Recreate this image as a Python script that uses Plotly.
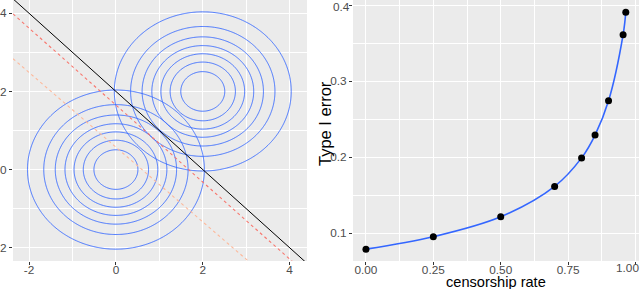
import numpy as np
import plotly.graph_objects as go

# ---- left panel: density contours of two bivariate normals and boundary lines
contour_levels = [0.02, 0.04, 0.06, 0.08, 0.10, 0.12, 0.14]
centers_x = [0.0, 2.0]
centers_y = [0.0, 2.0]
# lines y = intercept + slope * x
line_intercepts = [2.0, 1.65, 0.573]
line_slopes = [-1.0, -0.985, -0.956]
line_colors = ["#000000", "#F8766D", "#FDB99B"]
line_dashes = ["solid", "dot", "dot"]
left_ticks = [-2, 0, 2, 4]
left_ticktext = ["-2", "0", "2", "4"]

# ---- right panel
censorship_rate = [0.0, 0.25, 0.50, 0.70, 0.80, 0.85, 0.90, 0.954, 0.964]
type1_error = [0.079, 0.0953, 0.1215, 0.1615, 0.199, 0.229, 0.274, 0.361, 0.3905]
rate_ticks = [0, 0.25, 0.5, 0.75, 1.0]
rate_ticktext = ["0.00", "0.25", "0.50", "0.75", "1.00"]
err_ticks = [0.1, 0.2, 0.3, 0.4]
err_ticktext = ["0.1", "0.2", "0.3", "0.4"]

fig = go.Figure()

grid = np.linspace(-2.5, 4.5, 351)
GX, GY = np.meshgrid(grid, grid)
for cx, cy in zip(centers_x, centers_y):
    Z = np.exp(-((GX - cx) ** 2 + (GY - cy) ** 2) / 2) / (2 * np.pi)
    fig.add_trace(go.Contour(
        x=grid, y=grid, z=Z, xaxis="x", yaxis="y",
        contours=dict(coloring="lines", start=contour_levels[0],
                      end=contour_levels[-1],
                      size=contour_levels[1] - contour_levels[0]),
        colorscale=[[0, "#3366FF"], [1, "#3366FF"]],
        showscale=False, line=dict(width=0.9), hoverinfo="skip"))

xl = [-2.37, 4.40]
for a, b, c, d in zip(line_intercepts, line_slopes, line_colors, line_dashes):
    fig.add_trace(go.Scatter(
        x=xl, y=[a + b * xl[0], a + b * xl[1]], mode="lines",
        line=dict(color=c, width=1.0 if d == "solid" else 1.1, dash=d),
        xaxis="x", yaxis="y", showlegend=False))

fig.add_trace(go.Scatter(
    x=censorship_rate, y=type1_error, mode="lines",
    line=dict(color="#3366FF", width=1.6, shape="spline", smoothing=1.0),
    xaxis="x2", yaxis="y2", showlegend=False))
fig.add_trace(go.Scatter(
    x=censorship_rate, y=type1_error, mode="markers",
    marker=dict(color="black", size=7),
    xaxis="x2", yaxis="y2", showlegend=False, cliponaxis=False))

FONT = "Liberation Sans, Arial, sans-serif"
tickfont = dict(family=FONT, size=11.8, color="#4D4D4D")
common = dict(showgrid=True, gridcolor="white", gridwidth=1.1, zeroline=False,
              ticks="outside", ticklen=3, tickcolor="#333333", tickwidth=1,
              tickfont=tickfont, showline=False, layer="below traces",
              automargin=False)

bottom = 28 / 289
fig.update_layout(
    width=640, height=289, margin=dict(l=0, r=0, t=0, b=0),
    paper_bgcolor="white", plot_bgcolor="#EBEBEB", showlegend=False,
    xaxis=dict(domain=[13 / 640, 307 / 640], range=[-2.37, 4.40],
               tickvals=left_ticks, ticktext=left_ticktext, ticklabelstandoff=-5,
               minor=dict(tickvals=[-1, 1, 3], showgrid=True, gridcolor="white",
                          gridwidth=0.5, ticks=""),
               anchor="y", **common),
    yaxis=dict(domain=[bottom, 1.0], range=[-2.34, 4.34],
               tickvals=left_ticks, ticktext=left_ticktext,
               minor=dict(tickvals=[-1, 1, 3], showgrid=True, gridcolor="white",
                          gridwidth=0.5, ticks=""),
               anchor="x", **common),
    xaxis2=dict(domain=[353 / 640, 639 / 640], range=[-0.048, 1.013],
                tickvals=rate_ticks,
                ticktext=rate_ticktext[:-1] + [""], ticklabelstandoff=-5,
                minor=dict(tickvals=[0.125, 0.375, 0.625, 0.875], showgrid=True,
                           gridcolor="white", gridwidth=0.5, ticks=""),
                anchor="y2", **common),
    yaxis2=dict(domain=[bottom, 1.0], range=[0.0634, 0.4066],
                tickvals=err_ticks, ticktext=err_ticktext[:-1] + [""],
                minor=dict(tickvals=[0.15, 0.25, 0.35], showgrid=True,
                           gridcolor="white", gridwidth=0.5, ticks=""),
                anchor="x2", **common),
    annotations=[
        dict(text="censorship rate", xref="paper", yref="paper",
             x=(353 + 639) / 2 / 640, y=0, xanchor="center", yanchor="bottom",
             yshift=-3, showarrow=False,
             font=dict(family=FONT, size=14.6, color="black")),
        dict(text="Type I error", xref="paper", yref="paper",
             x=325 / 640, y=1 - 124 / 289, xanchor="center", yanchor="middle",
             textangle=-90, showarrow=False,
             font=dict(family=FONT, size=16.5, color="black")),
        # edge tick labels placed inside the picture, as in the reference
        dict(text=rate_ticktext[-1], xref="paper", yref="paper",
             x=627.7 / 640, y=1 - 267.5 / 289, xanchor="center", yanchor="middle",
             showarrow=False, font=tickfont),
        dict(text=err_ticktext[-1], xref="paper", yref="paper",
             x=350.5 / 640, y=1 - 7 / 289, xanchor="right", yanchor="middle",
             showarrow=False, font=tickfont, borderpad=0),
    ],
)

fig.write_html(
    "out.html",
    config={"displayModeBar": False},
    post_script="document.body.style.margin='0';"
                "document.body.style.overflow='hidden';"
                "document.documentElement.style.overflow='hidden';",
)
